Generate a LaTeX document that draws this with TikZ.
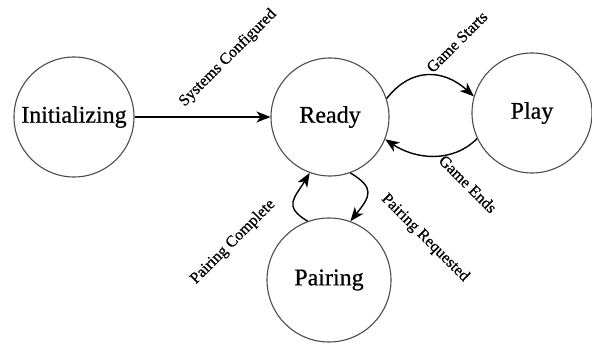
\documentclass[tikz,border=0pt]{standalone}
\usepackage{fontspec}
\setmainfont[FakeBold=0.6]{Liberation Serif}
\usetikzlibrary{arrows.meta}
\begin{document}
\begin{tikzpicture}[x=1pt,y=1pt,
  state/.style={circle,draw=black!70,line width=1.1pt,minimum size=120pt,inner sep=0pt,font=\fontsize{24}{28}\selectfont},
  trans/.style={-{Stealth[length=14pt,width=11pt,inset=4pt]},line width=1.4pt},
  lbl/.style={font=\fontsize{16}{18}\selectfont,inner sep=0pt}]
\useasboundingbox (0,0) rectangle (592,345);
\node[state] (init) at (74,228) {Initializing};
\node[state,minimum size=118pt] (ready) at (330,228) {Ready};
\node[state] (play) at (532,232) {Play};
\node[state,minimum size=124pt] (pair) at (329,65) {Pairing};
\draw[trans] (init) -- (ready);
\draw[trans] (ready.18) .. controls +(25,32) and +(-30,27) .. (play.164);
\draw[trans] (play.205) .. controls +(-25,-25) and +(30,-20) .. (ready.-22);
\draw[trans] (ready.-70) .. controls +(25,-15) and +(20,25) .. (pair.70);
\draw[trans] (pair.110) .. controls +(-25,15) and +(-15,-25) .. (ready.250);
\node[lbl,rotate=45] (l1) at (228,287) {Systems Configured};
\node[lbl,rotate=45] (l2) at (457,303) {Game Starts};
\node[lbl,rotate=-45] (l3) at (468,161) {Game Ends};
\node[lbl,rotate=-45] (l4) at (425,107) {Pairing Requested};
\node[lbl,rotate=45] (l5) at (233,103) {Pairing Complete};
\end{tikzpicture}
\end{document}
